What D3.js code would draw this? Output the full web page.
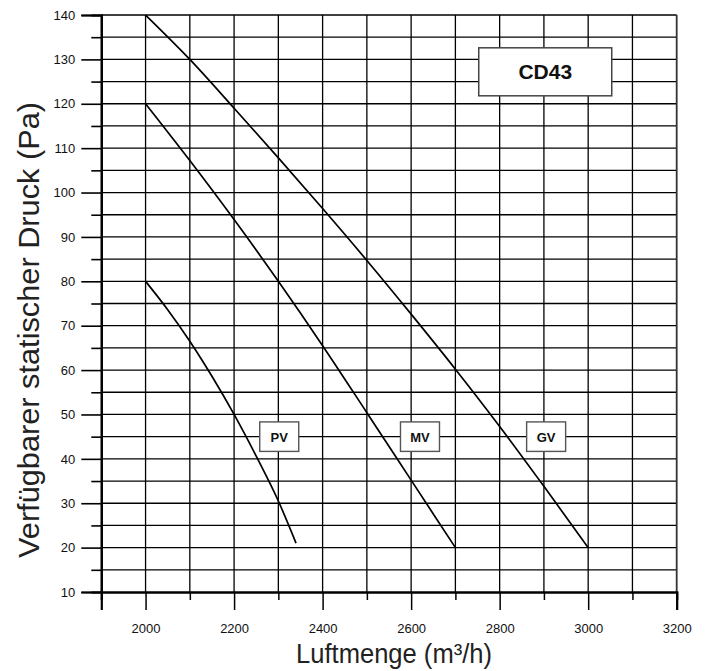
<!DOCTYPE html>
<html>
<head>
<meta charset="utf-8">
<script src="https://cdn.jsdelivr.net/npm/d3@7"></script>
<style>
  html, body { margin: 0; padding: 0; background: #fff; }
  svg { display: block; font-family: "Liberation Sans", Arial, sans-serif; }
</style>
</head>
<body>
<svg id="chart" width="709" height="671"></svg>
<script>
// ---- data ----
const xMajorTicks = [2000, 2200, 2400, 2600, 2800, 3000, 3200];
const xMinorTicks = [1900, 2100, 2300, 2500, 2700, 2900, 3100];
const yMajorTicks = [10, 20, 30, 40, 50, 60, 70, 80, 90, 100, 110, 120, 130, 140];
const yMinorTicks = [15, 25, 35, 45, 55, 65, 75, 85, 95, 105, 115, 125, 135];

const seriesNames = ["PV", "MV", "GV"];
const pvAirflow  = [2000, 2050, 2100, 2150, 2200, 2250, 2300, 2340];
const pvPressure = [80, 73.6, 66.5, 58.6, 50, 40.6, 30.5, 21];
const mvAirflow  = [2000, 2100, 2200, 2300, 2400, 2500, 2600, 2700];
const mvPressure = [120, 107.2, 93.9, 80, 65.5, 50.4, 35.2, 20];
const gvAirflow  = [2000, 2100, 2200, 2300, 2400, 2500, 2600, 2700, 2800, 2900, 3000];
const gvPressure = [140, 130, 119, 107.8, 96.4, 84.7, 72.6, 60.2, 47.3, 33.8, 20];

// label anchors (data units)
const labelAirflow  = [2302, 2620, 2905];
const labelPressure = [45, 45, 45];
const modelName = "CD43";
const modelAirflow = 2903, modelPressure = 127.2;

const xTitle = "Luftmenge (m³/h)";
const yTitle = "Verfügbarer statischer Druck (Pa)";

// ---- layout ----
const svg = d3.select("#chart");
const pLeft = 101.3, pRight = 676.7, pTop = 15, pBottom = 592;
const x = d3.scaleLinear().domain([1900, 3200]).range([pLeft, pRight]);
const y = d3.scaleLinear().domain([10, 140]).range([pBottom, pTop]);

// grid
const grid = svg.append("g").attr("stroke", "#000").attr("stroke-width", 1.3);
d3.range(2000, 3200, 100).forEach(v => {
  grid.append("line").attr("x1", x(v)).attr("x2", x(v)).attr("y1", pTop).attr("y2", pBottom);
});
d3.range(15, 140, 5).forEach(v => {
  grid.append("line").attr("x1", pLeft).attr("x2", pRight).attr("y1", y(v)).attr("y2", y(v));
});
// frame top/right
svg.append("line").attr("x1", pLeft).attr("x2", pRight).attr("y1", pTop).attr("y2", pTop)
  .attr("stroke", "#000").attr("stroke-width", 1.6);
svg.append("line").attr("x1", pRight).attr("x2", pRight).attr("y1", pTop).attr("y2", pBottom)
  .attr("stroke", "#333").attr("stroke-width", 1.8);

// x axis
const xAxisMajor = d3.axisBottom(x).tickValues(xMajorTicks).tickSize(18).tickPadding(14)
  .tickFormat(d3.format("d"));
const xAxisMinor = d3.axisBottom(x).tickValues(xMinorTicks).tickSize(8).tickFormat("");
const gx = svg.append("g").attr("transform", `translate(0,${pBottom})`).call(xAxisMajor);
const gxm = svg.append("g").attr("transform", `translate(0,${pBottom})`).call(xAxisMinor);
[gx, gxm].forEach(g => {
  g.select(".domain").attr("stroke", "#000").attr("stroke-width", 2.2);
  g.selectAll(".tick line").attr("stroke", "#000").attr("stroke-width", 1.5);
});
gx.selectAll(".tick text").attr("font-size", 13).attr("fill", "#111")
  .attr("font-family", "'Liberation Sans', Arial, sans-serif");

// y axis
const yAxisMajor = d3.axisLeft(y).tickValues(yMajorTicks).tickSize(20).tickPadding(6)
  .tickFormat(d3.format("d"));
const yAxisMinor = d3.axisLeft(y).tickValues(yMinorTicks).tickSize(10).tickFormat("");
const gy = svg.append("g").attr("transform", `translate(${pLeft},0)`).call(yAxisMajor);
const gym = svg.append("g").attr("transform", `translate(${pLeft},0)`).call(yAxisMinor);
[gy, gym].forEach(g => {
  g.select(".domain").attr("stroke", "#000").attr("stroke-width", 2.2);
  g.selectAll(".tick line").attr("stroke", "#000").attr("stroke-width", 1.6);
});
gy.selectAll(".tick text").attr("font-size", 13).attr("fill", "#111")
  .attr("font-family", "'Liberation Sans', Arial, sans-serif");

// curves
const line = d3.line().x(d => x(d[0])).y(d => y(d[1])).curve(d3.curveMonotoneX);
const series = [
  d3.zip(pvAirflow, pvPressure),
  d3.zip(mvAirflow, mvPressure),
  d3.zip(gvAirflow, gvPressure)
];
svg.append("g").selectAll("path").data(series).join("path")
  .attr("d", line).attr("fill", "none").attr("stroke", "#000").attr("stroke-width", 1.7);

// series labels
seriesNames.forEach((name, i) => {
  const cx = x(labelAirflow[i]), cy = y(labelPressure[i]);
  const w = 39, h = 29.5;
  svg.append("rect").attr("x", cx - w / 2).attr("y", cy - h / 2).attr("width", w).attr("height", h)
    .attr("fill", "#fff").attr("stroke", "#555").attr("stroke-width", 1.4);
  svg.append("text").attr("x", cx).attr("y", cy + 5).attr("text-anchor", "middle")
    .attr("font-size", 13).attr("font-weight", "bold").attr("fill", "#111").text(name);
});

// model box
{
  const cx = x(modelAirflow), cy = y(modelPressure);
  const w = 133, h = 48;
  svg.append("rect").attr("x", cx - w / 2).attr("y", cy - h / 2).attr("width", w).attr("height", h)
    .attr("fill", "#fff").attr("stroke", "#444").attr("stroke-width", 1.5);
  svg.append("text").attr("x", cx).attr("y", cy + 7.5).attr("text-anchor", "middle")
    .attr("font-size", 21).attr("font-weight", "bold").attr("fill", "#111").text(modelName);
}

// axis titles
svg.append("text").attr("x", 394).attr("y", 663).attr("text-anchor", "middle")
  .attr("font-size", 27).attr("fill", "#222")
  .attr("textLength", 196).attr("lengthAdjust", "spacingAndGlyphs").text(xTitle);
svg.append("text").attr("transform", "translate(39,330) rotate(-90)").attr("text-anchor", "middle")
  .attr("font-size", 30).attr("fill", "#222")
  .attr("textLength", 456).attr("lengthAdjust", "spacingAndGlyphs").text(yTitle);
</script>
</body>
</html>
